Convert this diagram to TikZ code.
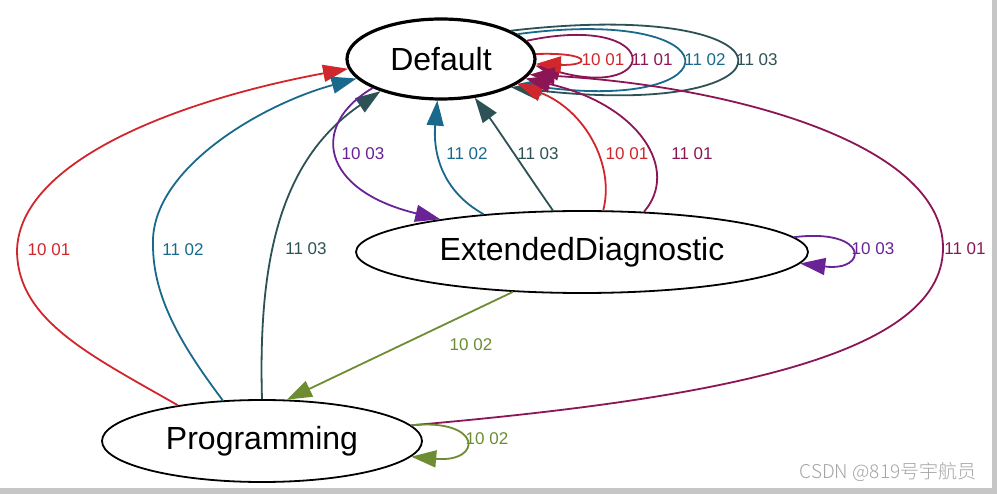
\documentclass[tikz,border=0pt]{standalone}
\usepackage{fontspec}
\setmainfont{Liberation Sans}
\newfontfamily\cjk{Noto Sans CJK SC Light}
\usetikzlibrary{arrows.meta,shapes.geometric}
\definecolor{cred}{RGB}{210,38,45}
\definecolor{cmag}{RGB}{140,22,85}
\definecolor{cteal}{RGB}{25,105,140}
\definecolor{cdark}{RGB}{45,82,85}
\definecolor{cpurple}{RGB}{105,35,150}
\definecolor{colive}{RGB}{110,140,50}
\definecolor{cframe}{RGB}{198,198,198}
\definecolor{cwm}{RGB}{165,165,165}
\begin{document}
\begin{tikzpicture}[x=1pt,y=-1pt,
  state/.style={ellipse, draw=black, line width=1.8pt, inner sep=0pt, font=\fontsize{32}{38}\selectfont},
  edge/.style={line width=1.8pt, -{Triangle[length=25pt,width=17pt]}},
  lbl/.style={font=\fontsize{17}{20}\selectfont, inner sep=0pt}]
\useasboundingbox (0,0) rectangle (997,494);
\fill[white] (0,0) rectangle (997,494);
\fill[cframe] (992,0) rectangle (997,494);
\fill[cframe] (0,488) rectangle (997,494);

\node[state, line width=3.2pt, minimum width=188pt, minimum height=80pt] (D) at (441,59) {Default};
\node[state, minimum width=452pt, minimum height=82pt] (E) at (582,252) {ExtendedDiagnostic};
\node[state, minimum width=320pt, minimum height=82pt] (P) at (262,441) {Programming};

% Default self loops
\draw[edge, cdark] (D.22) .. controls (810,-4) and (810,122) .. (D.-22);
\draw[edge, cteal] (D.18) .. controls (737,5) and (737,113) .. (D.-18);
\draw[edge, cmag] (D.12) .. controls (662,12) and (662,100) .. (D.-4);
\draw[edge, cred] (D.3) .. controls (592,52) and (592,66) .. (D.-3);
\node[lbl, text=cred] (l1) at (603,60) {10 01};
\node[lbl, text=cmag] (l2) at (652,60) {11 01};
\node[lbl, text=cteal] (l3) at (705,60) {11 02};
\node[lbl, text=cdark] (l4) at (757,60) {11 03};

% Programming -> Default
\draw[edge, cred] (P.157.8) .. controls (90,355) and (17,320) .. (17,250) .. controls (20,160) and (180,100) .. (D.186);
\draw[edge, cteal] (P.134) .. controls (185,350) and (153,300) .. (153,245) .. controls (150,170) and (260,105) .. (D.193);
\draw[edge, cdark] (P.90) .. controls (258,260) and (280,160) .. (D.208);
\draw[edge, cmag] (P.6) .. controls (700,400) and (943,360) .. (943,248) .. controls (943,140) and (720,85) .. (D.350);
\node[lbl, text=cred] (l5) at (49,250) {10 01};
\node[lbl, text=cteal] (l6) at (183,250) {11 02};
\node[lbl, text=cdark] (l7) at (306,249) {11 03};
\node[lbl, text=cmag] (l8) at (965,249) {11 01};

% Default <-> ExtendedDiagnostic
\draw[edge, cpurple] (D.203) .. controls (310,125) and (320,190) .. (E.167);
\draw[edge, cteal] (E.159) .. controls (440,190) and (433,150) .. (D.265);
\draw[edge, cdark] (E.125) .. controls (535,185) and (495,125) .. (D.311);
\draw[edge, cred] (E.63) .. controls (615,165) and (585,110) .. (D.342);
\draw[edge, cmag] (E.33) .. controls (680,170) and (640,105) .. (D.347);
\node[lbl, text=cpurple] (l9) at (363,154) {10 03};
\node[lbl, text=cteal] (l10) at (467,154) {11 02};
\node[lbl, text=cdark] (l11) at (538,154) {11 03};
\node[lbl, text=cred] (l12) at (627,154) {10 01};
\node[lbl, text=cmag] (l13) at (692,154) {11 01};

% ExtendedDiagnostic loop
\draw[edge, cpurple] (E.4.5) .. controls (869,228) and (869,272) .. (E.-3.8);
\node[lbl, text=cpurple] (l14) at (873,249) {10 03};

% ExtendedDiagnostic -> Programming
\draw[edge, colive] (E.210) -- (P.59.6);
\node[lbl, text=colive] (l15) at (471,345) {10 02};

% Programming loop
\draw[edge, colive] (P.6) .. controls (483,418) and (483,463) .. (P.-6);
\node[lbl, text=colive] (l16) at (487,439) {10 02};

% watermark
\node[font=\cjk\fontsize{19}{22}\selectfont, text=cwm, inner sep=0pt] (wm) at (888,472) {CSDN @819号宇航员};
\end{tikzpicture}
\end{document}
